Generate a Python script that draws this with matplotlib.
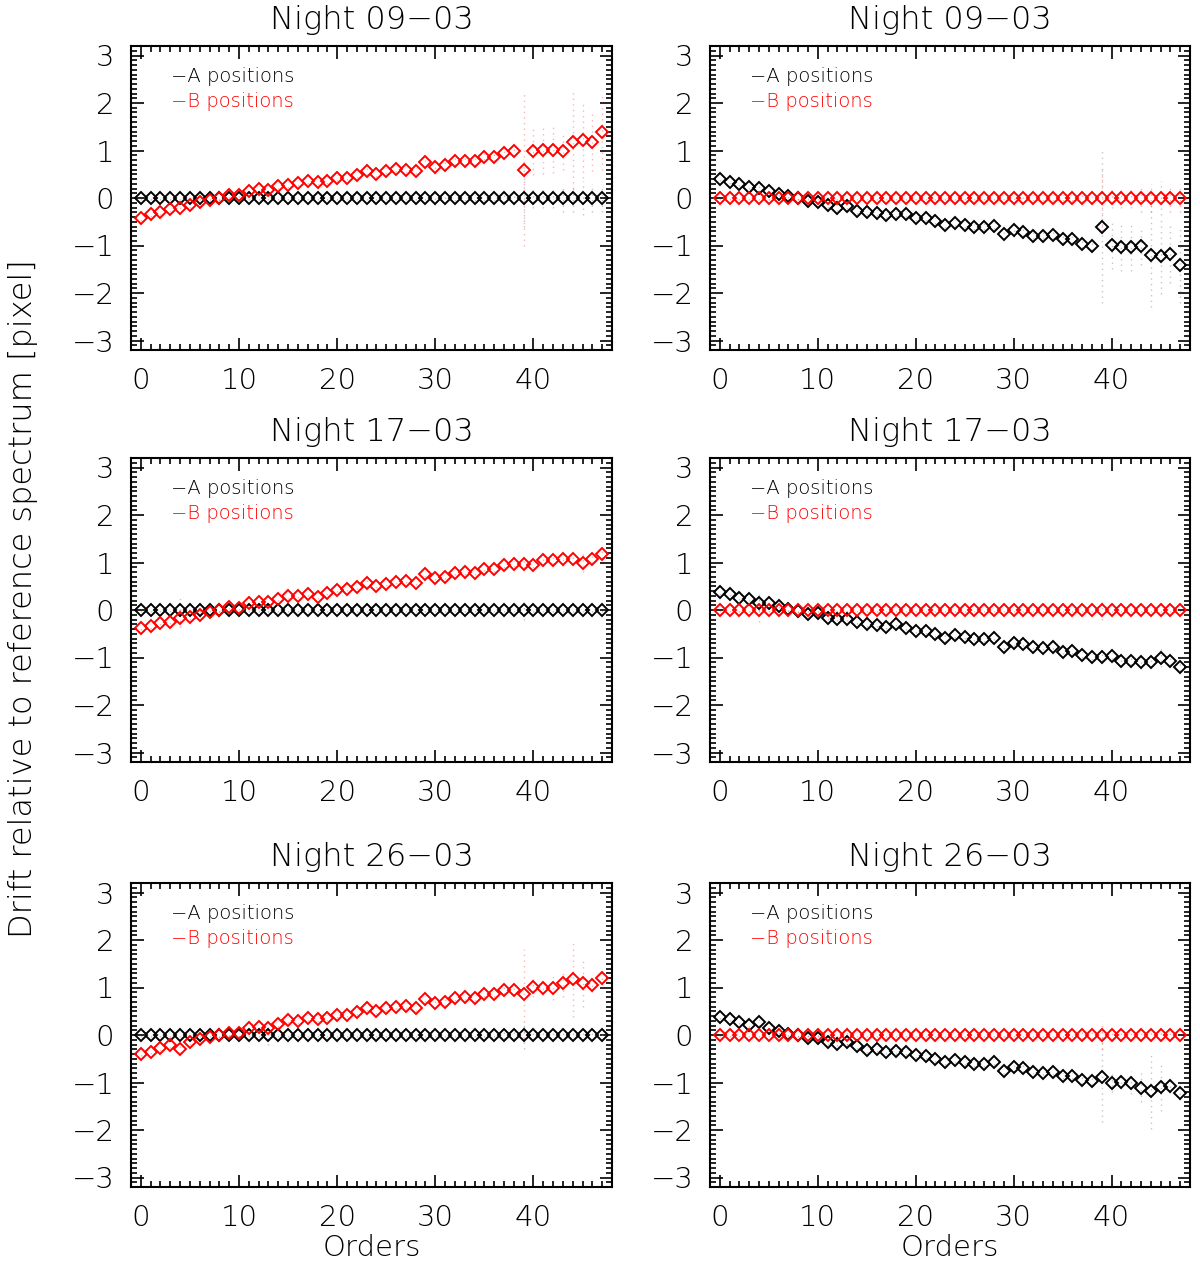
import matplotlib
matplotlib.use("Agg")
import matplotlib.pyplot as plt
from matplotlib.ticker import MultipleLocator
from matplotlib import font_manager

orders = list(range(48))
titles = ["Night 09\u221203", "Night 17\u221203", "Night 26\u221203"]
label_a = "\u2212A positions"
label_b = "\u2212B positions"

# Night 09-03: B drift (left panel), A drift (right panel)
b_left_0903 = [-0.43, -0.34, -0.30, -0.24, -0.22, -0.15, -0.09, -0.04, -0.01, 0.06,
               0.07, 0.14, 0.19, 0.16, 0.26, 0.28, 0.31, 0.35, 0.34, 0.35,
               0.42, 0.43, 0.49, 0.56, 0.51, 0.57, 0.61, 0.59, 0.57, 0.75,
               0.66, 0.70, 0.78, 0.78, 0.78, 0.87, 0.86, 0.95, 0.99, 0.60,
               0.98, 1.01, 1.02, 0.98, 1.18, 1.22, 1.17, 1.39]
a_right_0903 = [0.41, 0.34, 0.30, 0.24, 0.22, 0.15, 0.09, 0.04, 0.00, -0.07,
                -0.08, -0.14, -0.21, -0.17, -0.27, -0.29, -0.32, -0.36, -0.34, -0.34,
                -0.43, -0.43, -0.49, -0.57, -0.52, -0.57, -0.61, -0.60, -0.59, -0.76,
                -0.67, -0.71, -0.79, -0.79, -0.78, -0.87, -0.87, -0.96, -1.00, -0.61,
                -0.99, -1.03, -1.03, -1.00, -1.19, -1.23, -1.18, -1.41]

# Night 17-03
b_left_1703 = [-0.37, -0.34, -0.27, -0.25, -0.16, -0.15, -0.10, -0.05, 0.00, 0.07,
               0.04, 0.14, 0.17, 0.17, 0.24, 0.29, 0.30, 0.34, 0.28, 0.36,
               0.43, 0.44, 0.49, 0.57, 0.51, 0.55, 0.59, 0.61, 0.57, 0.76,
               0.68, 0.70, 0.78, 0.79, 0.78, 0.87, 0.86, 0.94, 0.97, 0.97,
               0.95, 1.05, 1.05, 1.07, 1.07, 0.99, 1.07, 1.18]
a_right_1703 = [0.37, 0.34, 0.26, 0.24, 0.15, 0.14, 0.09, 0.03, -0.02, -0.09,
                -0.07, -0.16, -0.18, -0.18, -0.25, -0.30, -0.31, -0.35, -0.29, -0.37,
                -0.44, -0.45, -0.51, -0.59, -0.53, -0.56, -0.61, -0.62, -0.58, -0.77,
                -0.70, -0.71, -0.78, -0.79, -0.78, -0.88, -0.87, -0.95, -0.99, -0.99,
                -0.97, -1.07, -1.08, -1.09, -1.09, -1.01, -1.08, -1.20]

# Night 26-03
b_left_2603 = [-0.39, -0.35, -0.28, -0.22, -0.30, -0.15, -0.09, -0.05, -0.01, 0.05,
               0.04, 0.14, 0.17, 0.14, 0.23, 0.31, 0.29, 0.36, 0.34, 0.36,
               0.42, 0.43, 0.49, 0.56, 0.51, 0.57, 0.60, 0.61, 0.57, 0.76,
               0.67, 0.70, 0.77, 0.79, 0.78, 0.86, 0.86, 0.95, 0.95, 0.87,
               1.01, 0.99, 0.99, 1.10, 1.17, 1.09, 1.06, 1.21]
a_right_2603 = [0.38, 0.34, 0.28, 0.22, 0.28, 0.15, 0.08, 0.03, 0.00, -0.06,
                -0.07, -0.15, -0.18, -0.15, -0.24, -0.32, -0.30, -0.35, -0.34, -0.36,
                -0.43, -0.44, -0.50, -0.57, -0.53, -0.57, -0.61, -0.62, -0.57, -0.76,
                -0.68, -0.70, -0.77, -0.79, -0.78, -0.87, -0.87, -0.95, -0.96, -0.88,
                -1.01, -0.99, -1.00, -1.11, -1.18, -1.10, -1.07, -1.22]

# reference position (fixed) series
fixed_zero = [0.0] * 48

# error estimates for the drifting series
err_move_0903 = [0.06, 0.05, 0.05, 0.06, 0.12, 0.06, 0.05, 0.05, 0.05, 0.06,
                 0.05, 0.06, 0.06, 0.06, 0.06, 0.06, 0.06, 0.06, 0.06, 0.06,
                 0.06, 0.06, 0.06, 0.07, 0.06, 0.07, 0.07, 0.07, 0.07, 0.10,
                 0.15, 0.08, 0.08, 0.08, 0.08, 0.08, 0.08, 0.10, 0.10, 1.60,
                 0.50, 0.50, 0.50, 0.40, 1.10, 0.80, 0.60, 0.80]
err_fix_0903 = [0.04, 0.04, 0.04, 0.04, 0.05, 0.04, 0.04, 0.04, 0.04, 0.04,
                0.04, 0.04, 0.04, 0.04, 0.04, 0.04, 0.04, 0.04, 0.04, 0.04,
                0.04, 0.04, 0.04, 0.04, 0.04, 0.04, 0.04, 0.04, 0.04, 0.05,
                0.15, 0.12, 0.06, 0.06, 0.06, 0.06, 0.06, 0.08, 0.10, 0.60,
                0.20, 0.20, 0.20, 0.30, 0.30, 0.35, 0.30, 0.30]
err_move_1703 = [0.05, 0.05, 0.05, 0.05, 0.20, 0.05, 0.05, 0.05, 0.05, 0.05,
                 0.05, 0.05, 0.05, 0.05, 0.05, 0.05, 0.05, 0.05, 0.05, 0.05,
                 0.05, 0.05, 0.05, 0.08, 0.05, 0.05, 0.05, 0.05, 0.05, 0.06,
                 0.05, 0.05, 0.05, 0.05, 0.05, 0.05, 0.05, 0.06, 0.06, 0.08,
                 0.06, 0.12, 0.08, 0.15, 0.10, 0.20, 0.08, 0.08]
err_fix_1703 = [0.04, 0.04, 0.04, 0.04, 0.25, 0.04, 0.04, 0.04, 0.04, 0.04,
                0.04, 0.04, 0.04, 0.04, 0.04, 0.04, 0.04, 0.04, 0.04, 0.04,
                0.04, 0.04, 0.04, 0.04, 0.04, 0.04, 0.04, 0.04, 0.04, 0.04,
                0.04, 0.04, 0.04, 0.04, 0.04, 0.04, 0.04, 0.04, 0.04, 0.20,
                0.04, 0.04, 0.04, 0.04, 0.04, 0.04, 0.04, 0.04]
err_move_2603 = [0.05, 0.05, 0.05, 0.05, 0.08, 0.05, 0.05, 0.05, 0.05, 0.08,
                 0.08, 0.05, 0.05, 0.05, 0.06, 0.06, 0.06, 0.06, 0.06, 0.06,
                 0.06, 0.06, 0.06, 0.06, 0.06, 0.06, 0.06, 0.06, 0.06, 0.06,
                 0.10, 0.08, 0.06, 0.06, 0.06, 0.06, 0.06, 0.08, 0.10, 0.95,
                 0.20, 0.15, 0.25, 0.30, 0.80, 0.50, 0.15, 0.15]
err_fix_2603 = [0.05, 0.05, 0.05, 0.05, 0.05, 0.05, 0.05, 0.05, 0.05, 0.05,
                0.05, 0.05, 0.05, 0.20, 0.05, 0.05, 0.05, 0.05, 0.05, 0.05,
                0.05, 0.05, 0.05, 0.05, 0.05, 0.05, 0.05, 0.05, 0.05, 0.05,
                0.05, 0.05, 0.05, 0.05, 0.05, 0.05, 0.05, 0.08, 0.08, 0.30,
                0.10, 0.10, 0.10, 0.10, 0.10, 0.10, 0.10, 0.12]

nights = [
    (b_left_0903, a_right_0903, err_move_0903, err_fix_0903),
    (b_left_1703, a_right_1703, err_move_1703, err_fix_1703),
    (b_left_2603, a_right_2603, err_move_2603, err_fix_2603),
]

# thin font similar to IDL vector font
entries = font_manager.fontManager.ttflist
has_dv_light = any(f.name == "DejaVu Sans" and f.weight in (200, 300, "light", "extra-light")
                   for f in entries)
if has_dv_light:
    plt.rcParams["font.family"] = ["DejaVu Sans"]
    plt.rcParams["font.weight"] = 200
else:
    plt.rcParams["font.family"] = ["Lato", "DejaVu Sans"]
    plt.rcParams["font.weight"] = "normal"
plt.rcParams["axes.unicode_minus"] = True
plt.rcParams["axes.titleweight"] = plt.rcParams["font.weight"]
plt.rcParams["axes.labelweight"] = plt.rcParams["font.weight"]

fig = plt.figure(figsize=(12, 12.66), dpi=100)

col_x = [131 / 1200, 710 / 1200]
col_w = [481 / 1200, 480 / 1200]
row_top = [46, 458, 883]
row_h = 304

RED = "#ff0000"


def draw_panel(ax, a_vals, b_vals, a_err, b_err):
    ax.vlines(orders, [v - e for v, e in zip(a_vals, a_err)],
              [v + e for v, e in zip(a_vals, a_err)],
              colors="0.5", linestyles=(0, (1, 3)), linewidth=1.0, alpha=0.45)
    ax.vlines(orders, [v - e for v, e in zip(b_vals, b_err)],
              [v + e for v, e in zip(b_vals, b_err)],
              colors=RED, linestyles=(0, (1, 3)), linewidth=1.0, alpha=0.3)
    ax.plot(orders, a_vals, "D", mfc="none", mec="black", ms=6.3, mew=1.4)
    ax.plot(orders, b_vals, "D", mfc="none", mec=RED, ms=6.3, mew=1.4)
    ax.set_xlim(-1, 48)
    ax.set_ylim(-3.2, 3.2)
    ax.xaxis.set_major_locator(MultipleLocator(10))
    ax.xaxis.set_minor_locator(MultipleLocator(1))
    ax.yaxis.set_major_locator(MultipleLocator(1))
    ax.yaxis.set_minor_locator(MultipleLocator(0.1))
    ax.tick_params(which="both", direction="in", top=True, right=True,
                   labelsize=21, width=1.2, colors="black")
    ax.tick_params(which="major", length=9, pad=12)
    ax.tick_params(which="minor", length=4.5)
    for s in ax.spines.values():
        s.set_linewidth(1.5)
    ax.text(0.083, 0.90, label_a, transform=ax.transAxes, color="black",
            fontsize=14, va="center", ha="left")
    ax.text(0.083, 0.818, label_b, transform=ax.transAxes, color=RED,
            fontsize=14, va="center", ha="left")


for r, (b_left, a_right, err_move, err_fix) in enumerate(nights):
    bottom = 1 - (row_top[r] + row_h) / 1266
    h = row_h / 1266
    # left: A positions fixed, B drifts
    axl = fig.add_axes([col_x[0], bottom, col_w[0], h])
    draw_panel(axl, fixed_zero, b_left, err_fix, err_move)
    # right: B positions fixed, A drifts
    axr = fig.add_axes([col_x[1], bottom, col_w[1], h])
    draw_panel(axr, a_right, fixed_zero, err_move, err_fix)
    for ax in (axl, axr):
        ax.set_title(titles[r], fontsize=23, pad=12)
        if r == 2:
            ax.set_xlabel("Orders", fontsize=21, labelpad=2)

fig.text(0.019, 0.527, "Drift relative to reference spectrum [pixel]",
         rotation=90, fontsize=23, ha="center", va="center")

fig.savefig("out.png", dpi=100)
